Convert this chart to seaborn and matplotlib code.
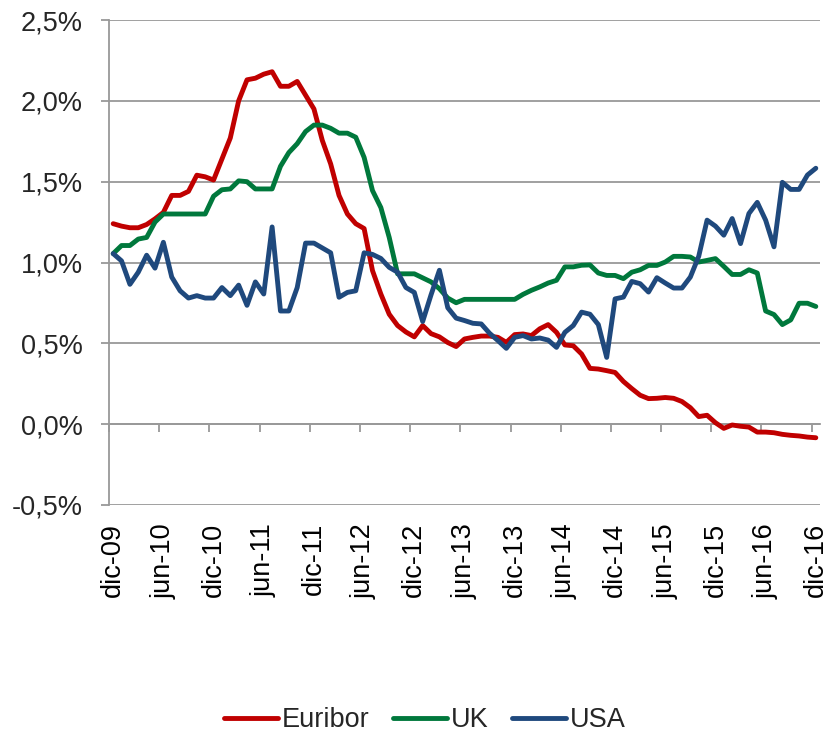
# Tipos de interés: Euribor, UK, USA (dic-09 a dic-16, mensual)
import numpy as np
import pandas as pd
import matplotlib
matplotlib.use('Agg')
import matplotlib.pyplot as plt
import seaborn as sns
from matplotlib.ticker import FuncFormatter

# Datos (% mensual)
euribor = [1.24, 1.225, 1.215, 1.215, 1.235, 1.27, 1.31, 1.415, 1.415, 1.44,
           1.54, 1.53, 1.51, 1.64, 1.77, 2.00, 2.13, 2.14, 2.165, 2.18,
           2.09, 2.09, 2.12, 2.035, 1.95, 1.755, 1.61, 1.415, 1.30, 1.24,
           1.21, 0.95, 0.805, 0.68, 0.61, 0.57, 0.54, 0.61, 0.56, 0.54,
           0.505, 0.48, 0.527, 0.537, 0.545, 0.545, 0.537, 0.506, 0.554, 0.558,
           0.548, 0.59, 0.616, 0.568, 0.49, 0.485, 0.434, 0.345, 0.341, 0.331,
           0.32, 0.264, 0.22, 0.179, 0.158, 0.16, 0.165, 0.16, 0.14, 0.102,
           0.047, 0.055, 0.009, -0.026, -0.005, -0.013, -0.018, -0.049, -0.049, -0.053,
           -0.063, -0.069, -0.073, -0.08, -0.084]
uk = [1.055, 1.105, 1.105, 1.145, 1.155, 1.25, 1.30, 1.30, 1.30, 1.30,
      1.30, 1.30, 1.41, 1.45, 1.455, 1.505, 1.50, 1.455, 1.455, 1.455,
      1.595, 1.68, 1.735, 1.81, 1.85, 1.85, 1.83, 1.80, 1.80, 1.775,
      1.65, 1.445, 1.34, 1.155, 0.93, 0.93, 0.93, 0.905, 0.88, 0.838,
      0.78, 0.751, 0.772, 0.772, 0.772, 0.772, 0.772, 0.772, 0.772, 0.803,
      0.828, 0.849, 0.873, 0.89, 0.973, 0.973, 0.983, 0.985, 0.935, 0.92,
      0.92, 0.90, 0.94, 0.955, 0.982, 0.982, 1.003, 1.038, 1.038, 1.034,
      1.003, 1.013, 1.024, 0.976, 0.926, 0.926, 0.955, 0.935, 0.70, 0.678,
      0.616, 0.645, 0.748, 0.748, 0.728]
usa = [1.055, 1.01, 0.865, 0.94, 1.045, 0.965, 1.125, 0.91, 0.825, 0.78,
       0.795, 0.78, 0.78, 0.845, 0.795, 0.86, 0.735, 0.88, 0.805, 1.22,
       0.70, 0.70, 0.845, 1.12, 1.12, 1.09, 1.06, 0.785, 0.815, 0.825,
       1.06, 1.05, 1.025, 0.97, 0.94, 0.845, 0.815, 0.635, 0.80, 0.952,
       0.72, 0.656, 0.641, 0.624, 0.62, 0.562, 0.517, 0.469, 0.537, 0.548,
       0.527, 0.533, 0.52, 0.475, 0.568, 0.61, 0.693, 0.68, 0.616, 0.413,
       0.775, 0.786, 0.883, 0.869, 0.817, 0.906, 0.873, 0.842, 0.842, 0.91,
       1.038, 1.262, 1.225, 1.169, 1.272, 1.117, 1.303, 1.372, 1.262, 1.097,
       1.496, 1.452, 1.452, 1.541, 1.583]

tick_labels = ['dic-09', 'jun-10', 'dic-10', 'jun-11', 'dic-11', 'jun-12', 'dic-12',
               'jun-13', 'dic-13', 'jun-14', 'dic-14', 'jun-15', 'dic-15', 'jun-16', 'dic-16']
series_names = ['Euribor', 'UK', 'USA']
colors = ['#C00000', '#00783C', '#1F497D']

months = np.arange(len(euribor))
df = pd.DataFrame({
    'mes': np.tile(months, 3),
    'tipo': np.concatenate([euribor, uk, usa]),
    'serie': np.repeat(series_names, len(months)),
})

sns.set_style('white')
plt.rcParams['font.family'] = ['Liberation Sans', 'DejaVu Sans']
grey = '#999999'
fs = 19.5

fig = plt.figure(figsize=(8.29, 7.32), dpi=100)
ax = fig.add_axes([109 / 829, 1 - 505 / 732, (820 - 109) / 829, (505 - 20) / 732])

sns.lineplot(data=df, x='mes', y='tipo', hue='serie', palette=colors,
             linewidth=3.5, ax=ax, legend=False)

ax.set_xlim(-0.5, len(months) - 0.5)
ax.set_ylim(-0.5, 2.5)
ax.set_yticks(np.arange(-0.5, 2.51, 0.5))
ax.yaxis.set_major_formatter(FuncFormatter(lambda v, p: f"{v:.1f}%".replace('.', ',')))
ax.set_xticks(months[::6])
ax.set_xticklabels(tick_labels, rotation=90)
ax.set_xlabel('')
ax.set_ylabel('')
ax.tick_params(axis='x', length=0, pad=13, labelsize=fs, colors='black')
ax.tick_params(axis='y', left=True, length=6, width=1.3, color=grey,
               direction='out', pad=13, labelsize=fs)
ax.grid(axis='y', color=grey, linewidth=1.3)
ax.grid(axis='x', visible=False)
ax.set_axisbelow(True)
for s in ['top', 'right', 'bottom']:
    ax.spines[s].set_visible(False)
ax.spines['left'].set_color(grey)
ax.spines['left'].set_linewidth(1.3)

# eje horizontal en 0% con marcas entre categorías
sec = ax.secondary_xaxis(1 / 6)
sec.set_xticks(np.arange(-0.5, len(months) - 1, 6))
sec.set_xticklabels([])
sec.tick_params(length=6, width=1.3, color=grey, direction='out')
sec.spines['bottom'].set_color(grey)
sec.spines['bottom'].set_linewidth(1.3)

fig.legend(ax.get_lines()[:3], series_names, loc='center',
           bbox_to_anchor=(425 / 829, 1 - 720 / 732), ncol=3, frameon=False,
           fontsize=fs, handlelength=2.0, handletextpad=0.15, columnspacing=0.85)

fig.savefig('out.png', dpi=100)
